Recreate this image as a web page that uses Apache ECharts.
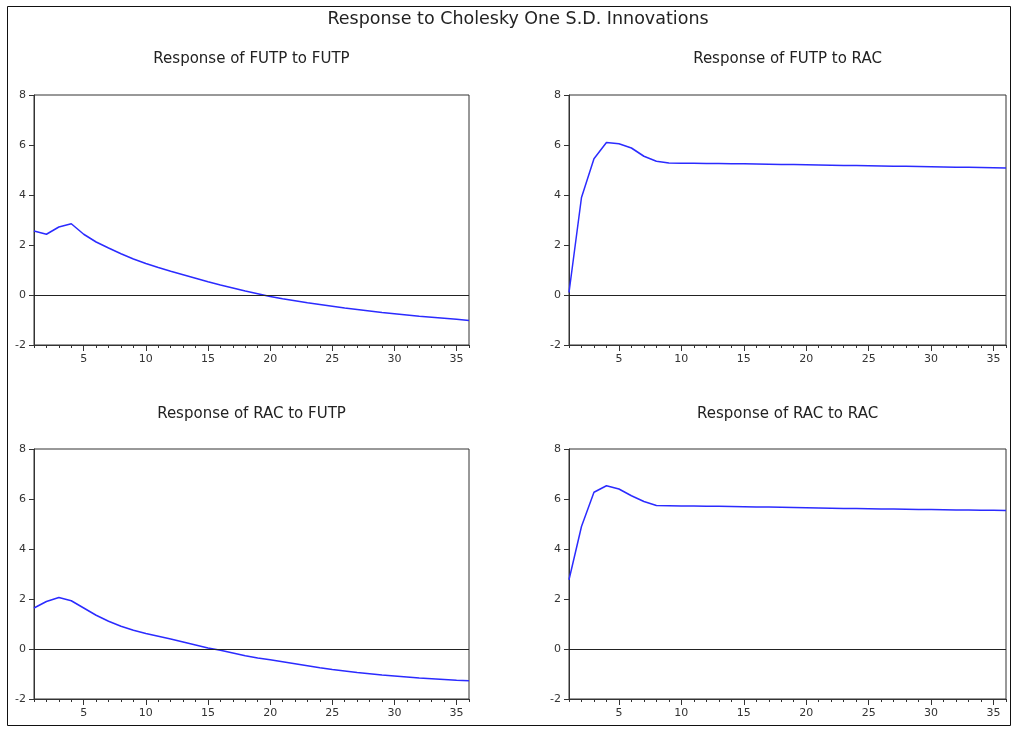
<!DOCTYPE html>
<html>
<head>
<meta charset="utf-8">
<script src="https://cdn.jsdelivr.net/npm/echarts@6/dist/echarts.min.js"></script>
<style>
  html, body { margin: 0; padding: 0; background: #ffffff; }
  #chart { width: 1013px; height: 734px; }
</style>
</head>
<body>
<div id="chart"></div>
<script>
// Impulse responses over a 36-period horizon
const periods = [1, 2, 3, 4, 5, 6, 7, 8, 9, 10, 11, 12, 13, 14, 15, 16, 17, 18,
  19, 20, 21, 22, 23, 24, 25, 26, 27, 28, 29, 30, 31, 32, 33, 34, 35, 36];

const futpToFutp = [2.56, 2.43, 2.72, 2.85, 2.43, 2.12, 1.88, 1.65, 1.44, 1.26,
  1.10, 0.95, 0.81, 0.67, 0.53, 0.40, 0.28, 0.16, 0.05, -0.06, -0.15, -0.23,
  -0.31, -0.38, -0.45, -0.52, -0.58, -0.64, -0.70, -0.75, -0.80, -0.85, -0.89,
  -0.93, -0.97, -1.02];

const futpToRac = [0.10, 3.90, 5.45, 6.10, 6.05, 5.88, 5.55, 5.35, 5.28, 5.27,
  5.27, 5.26, 5.26, 5.25, 5.25, 5.24, 5.23, 5.22, 5.22, 5.21, 5.20, 5.19, 5.18,
  5.18, 5.17, 5.16, 5.15, 5.15, 5.14, 5.13, 5.12, 5.11, 5.11, 5.10, 5.09, 5.08];

const racToFutp = [1.64, 1.90, 2.06, 1.93, 1.64, 1.35, 1.11, 0.91, 0.75, 0.62,
  0.51, 0.40, 0.28, 0.16, 0.04, -0.05, -0.16, -0.27, -0.36, -0.43, -0.51, -0.59,
  -0.67, -0.75, -0.82, -0.88, -0.94, -0.99, -1.04, -1.08, -1.12, -1.16, -1.19,
  -1.22, -1.25, -1.27];

const racToRac = [2.77, 4.90, 6.27, 6.53, 6.40, 6.13, 5.90, 5.74, 5.73, 5.72,
  5.72, 5.71, 5.71, 5.70, 5.69, 5.68, 5.68, 5.67, 5.66, 5.65, 5.64, 5.63, 5.62,
  5.62, 5.61, 5.60, 5.60, 5.59, 5.58, 5.58, 5.57, 5.56, 5.56, 5.55, 5.55, 5.54];

const xLabelTicks = [5, 10, 15, 20, 25, 30, 35];
const yRange = { min: -2, max: 8, step: 2 };

const mainTitle = 'Response to Cholesky One S.D. Innovations';
const panelTitles = ['Response of FUTP to FUTP', 'Response of FUTP to RAC',
  'Response of RAC to FUTP', 'Response of RAC to RAC'];
const panelSeries = [futpToFutp, futpToRac, racToFutp, racToRac];

// Panel placement (pixels)
const grids = [
  { left: 34, top: 95, width: 435, height: 250 },
  { left: 569, top: 95, width: 437, height: 250 },
  { left: 34, top: 449, width: 435, height: 250 },
  { left: 569, top: 449, width: 437, height: 250 }
];
const titleTops = [59, 59, 414, 414];

const FONT = 'DejaVu Sans';
const ink = '#222222';

const chart = echarts.init(document.getElementById('chart'), null, { renderer: 'canvas' });

const option = {
  backgroundColor: '#ffffff',
  animation: false,
  title: [{
    text: mainTitle,
    left: 518, top: 19, textAlign: 'center', textVerticalAlign: 'middle',
    padding: 0,
    textStyle: { fontFamily: FONT, fontSize: 17.5, fontWeight: 'normal', color: ink }
  }].concat(panelTitles.map((t, i) => ({
    text: t,
    left: grids[i].left + grids[i].width / 2, top: titleTops[i],
    textAlign: 'center', textVerticalAlign: 'middle', padding: 0,
    textStyle: { fontFamily: FONT, fontSize: 15, fontWeight: 'normal', color: ink }
  }))),
  graphic: [{
    type: 'rect',
    shape: { x: 7.5, y: 6.5, width: 1003, height: 719 },
    style: { fill: null, stroke: '#111111', lineWidth: 1 },
    silent: true
  }],
  grid: grids.map(g => Object.assign({
    show: true, borderColor: '#333333', borderWidth: 1, backgroundColor: 'transparent'
  }, g)),
  xAxis: [],
  yAxis: [],
  series: []
};

grids.forEach((g, i) => {
  // labelled axis with long ticks every 5 periods
  option.xAxis.push({
    type: 'value', gridIndex: i, min: 1, max: 36,
    axisLine: { show: true, onZero: false, lineStyle: { color: '#333333', width: 1 } },
    axisTick: { show: true, inside: false, length: 6, customValues: xLabelTicks,
      lineStyle: { color: '#333333' } },
    axisLabel: { show: true, customValues: xLabelTicks, margin: 9,
      fontFamily: FONT, fontSize: 11, color: '#333333' },
    splitLine: { show: false }
  });
  // short tick at every period
  option.xAxis.push({
    type: 'value', gridIndex: i, min: 1, max: 36, position: 'bottom',
    axisLine: { show: false, onZero: false },
    axisTick: { show: true, inside: false, length: 3, customValues: periods,
      lineStyle: { color: '#333333' } },
    axisLabel: { show: false },
    splitLine: { show: false }
  });
  option.yAxis.push({
    type: 'value', gridIndex: i, min: yRange.min, max: yRange.max, interval: yRange.step,
    axisLine: { show: true, onZero: false, lineStyle: { color: '#333333', width: 1 } },
    axisTick: { show: true, inside: false, length: 5, lineStyle: { color: '#333333' } },
    axisLabel: { show: true, margin: 8, fontFamily: FONT, fontSize: 11, color: '#333333' },
    splitLine: { show: false }
  });
  option.series.push({
    type: 'line',
    xAxisIndex: i * 2, yAxisIndex: i,
    data: periods.map((p, k) => [p, panelSeries[i][k]]),
    showSymbol: false, smooth: false,
    lineStyle: { color: '#2b2bff', width: 1.5 },
    markLine: {
      silent: true, symbol: ['none', 'none'],
      label: { show: false },
      lineStyle: { color: '#222222', width: 1, type: 'solid' },
      data: [{ yAxis: 0 }]
    },
    z: 3
  });
});

chart.setOption(option);
</script>
</body>
</html>
